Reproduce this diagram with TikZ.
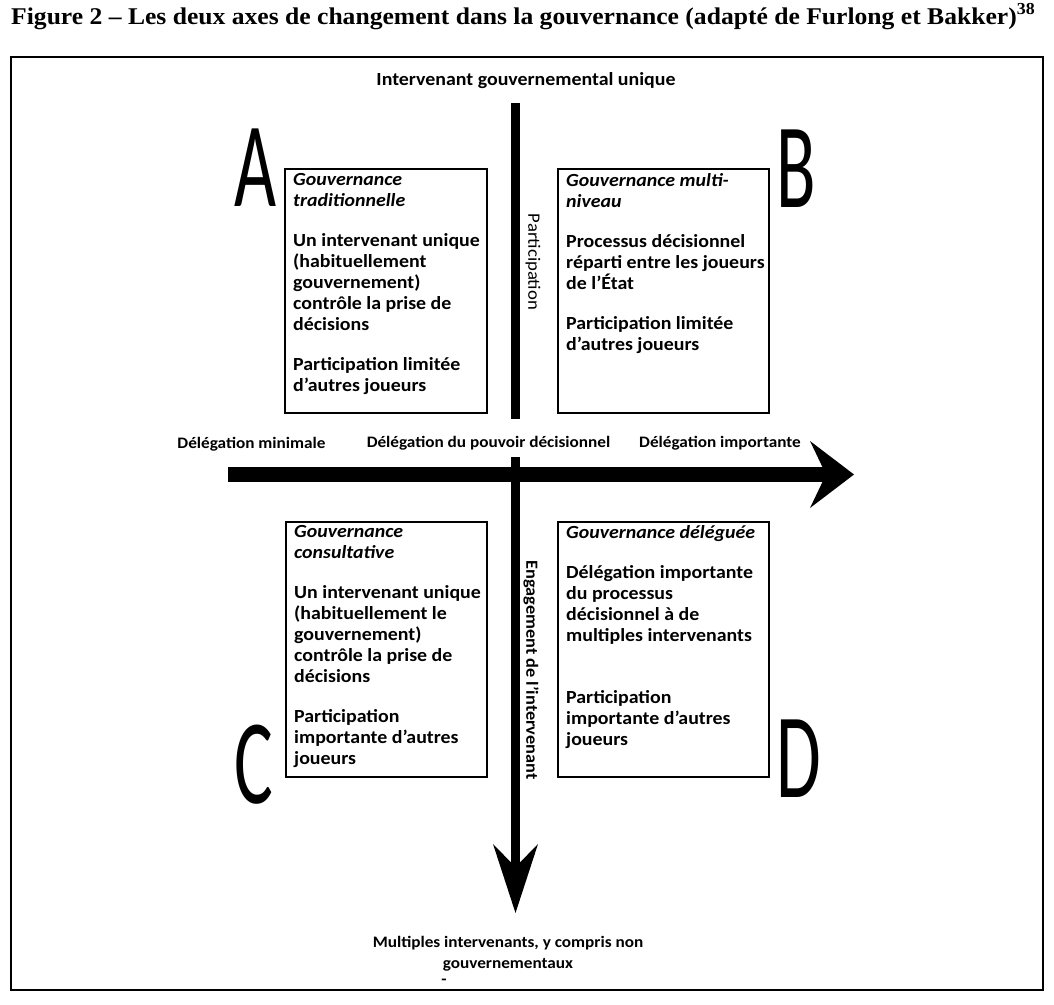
\documentclass[tikz,border=0pt]{standalone}
\usepackage{fontspec}
\usepackage{graphicx}
\setmainfont{Carlito}[FakeStretch=1.075]
\newfontfamily\letterfont{Carlito}
\newfontfamily\titlefont{Liberation Serif}
\begin{document}
\begin{tikzpicture}[x=1pt,y=-1pt,
  frame/.style={draw, line width=1.3pt},
  qbox/.style={draw, line width=1.5pt, inner sep=0pt},
  boxtext/.style={anchor=north west, inner sep=0pt, align=left,
    font=\fontsize{18.5}{21}\selectfont\bfseries},
  toplabel/.style={inner sep=0pt, font=\fontsize{18.5}{21}\selectfont\bfseries},
  axislabel/.style={inner sep=0pt, font=\fontsize{16}{19}\selectfont\bfseries},
  vlabel/.style={inner sep=0pt, rotate=-90, font=\fontsize{17.4}{19}\selectfont},
  bigletter/.style={inner sep=0pt, anchor=base, font=\letterfont\fontsize{121}{121}\selectfont},
  axisbar/.style={line width=#1},
  head/.style={fill=black}
]
\useasboundingbox (0,0) rectangle (1054,1004);

% title
\node[anchor=base west, inner sep=0pt] (title) at (11,24)
  {\titlefont\bfseries\fontsize{24}{28}\selectfont\resizebox{1024pt}{\height}{Figure 2 – Les deux axes de changement dans la gouvernance (adapté de Furlong et Bakker)\textsuperscript{38}}};

% frame
\draw[frame] (11,57) rectangle (1043,990);

% top label
\node[toplabel] (toplab) at (526,81) {Intervenant gouvernemental unique};

% quadrant boxes
\node[qbox, minimum width=202pt, minimum height=244pt] (boxA) at (386,291) {};
\node[qbox, minimum width=211pt, minimum height=244pt] (boxB) at (663.5,291) {};
\node[qbox, minimum width=201pt, minimum height=255pt] (boxC) at (386.5,649.5) {};
\node[qbox, minimum width=211pt, minimum height=255pt] (boxD) at (663.5,649.5) {};

% box texts
\node[boxtext] (txtA) at (293,173) {\textit{Gouvernance}\\ \textit{traditionnelle}\\[19pt]
  Un intervenant unique\\ (habituellement\\ gouvernement)\\ contrôle la prise de\\ décisions\\[19pt]
  Participation limitée\\ d’autres joueurs};
\node[boxtext] (txtB) at (566,173) {\textit{Gouvernance multi-}\\ \textit{niveau}\\[19pt]
  Processus décisionnel\\ réparti entre les joueurs\\ de l’État\\[19pt]
  Participation limitée\\ d’autres joueurs};
\node[boxtext] (txtC) at (294,525) {\textit{Gouvernance}\\ \textit{consultative}\\[19pt]
  Un intervenant unique\\ (habituellement le\\ gouvernement)\\ contrôle la prise de\\ décisions\\[19pt]
  Participation\\ importante d’autres\\ joueurs};
\node[boxtext] (txtD) at (566,525) {\textit{Gouvernance déléguée}\\[19pt]
  Délégation importante\\ du processus\\ décisionnel à de\\ multiples intervenants\\[41pt]
  Participation\\ importante d’autres\\ joueurs};

% big letters
\node[bigletter] (letA) at (256,206) {\scalebox{0.6}[1]{A}};
\node[bigletter] (letB) at (796,207) {\scalebox{0.6}[1]{B}};
\node[bigletter] (letC) at (253.5,803) {\scalebox{0.6}[1]{C}};
\node[bigletter] (letD) at (799,797) {\scalebox{0.6}[1]{D}};

% axes
\coordinate (hstart) at (228,474.5);
\coordinate (hnotch) at (826,474.5);
\coordinate (htip) at (854,474.5);
\draw[axisbar=15pt] (hstart) -- (hnotch);
\fill[head] (htip) -- ++(-44,-33.5) -- (hnotch) -- ++(-16,33.5) -- cycle;

\coordinate (vtop) at (515.5,103);
\coordinate (vgapA) at (515.5,419);
\coordinate (vgapB) at (515.5,457);
\coordinate (vnotch) at (515.5,867);
\coordinate (vtip) at (515.5,913);
\draw[axisbar=9.3pt] (vtop) -- (vgapA);
\draw[axisbar=9.3pt] (vgapB) -- (vnotch);
\fill[head] (vtip) -- ++(-22.5,-69) -- (vnotch) -- ++(22.5,-23) -- cycle;

% axis labels
\node[axislabel] (lmin) at (251.5,444) {Délégation minimale};
\node[axislabel] (lmid) at (488.5,443) {Délégation du pouvoir décisionnel};
\node[axislabel] (lmax) at (720,443) {Délégation importante};
\node[vlabel] (lpart) at (533,262) {Participation};
\node[vlabel, font=\fontsize{17}{19}\selectfont\bfseries] (leng) at (531,670) {Engagement de l’intervenant};

% bottom label
\node[axislabel, align=center, font=\fontsize{16}{21}\selectfont\bfseries] (lbot) at (508,954)
  {Multiples intervenants, y compris non\\ gouvernementaux};
\node[axislabel] (ldash) at (444,982) {-};
\end{tikzpicture}
\end{document}
